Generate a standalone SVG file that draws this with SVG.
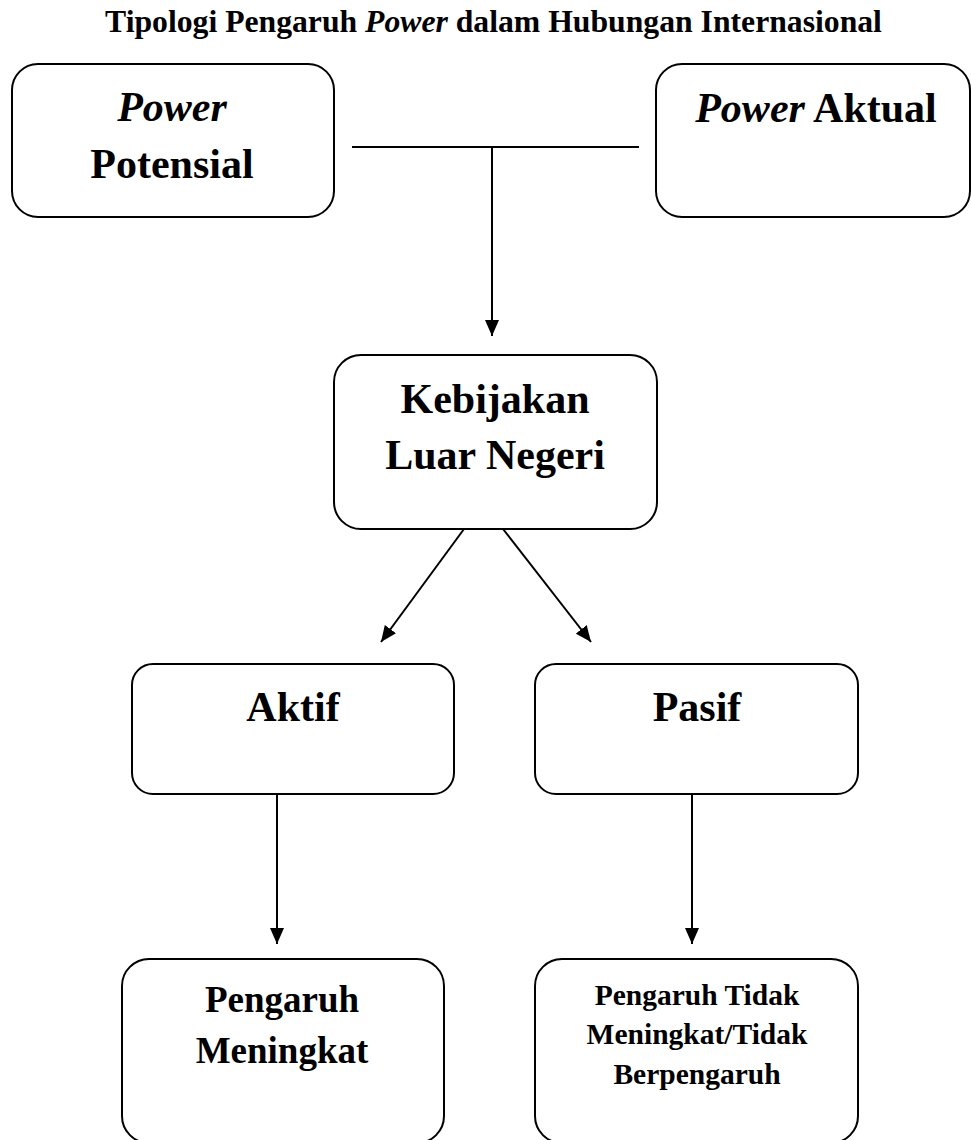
<svg xmlns="http://www.w3.org/2000/svg" width="971" height="1140" viewBox="0 0 971 1140">
<style>
.box{fill:#fff;stroke:#000;stroke-width:2}
.t{font-family:"Liberation Serif","Times New Roman",serif;font-weight:bold;fill:#000;text-anchor:middle}
.i{font-style:italic}
.c{stroke:#000;stroke-width:2;fill:none}
</style>
<defs>
<marker id="ah" markerWidth="16" markerHeight="14" refX="16" refY="7" orient="auto" markerUnits="userSpaceOnUse">
<path d="M0,0 L16,7 L0,14 z" fill="#000"/>
</marker>
</defs>
<rect width="971" height="1140" fill="#fff"/>
<text class="t" x="493.5" y="32" font-size="31.7">Tipologi Pengaruh <tspan class="i">Power</tspan> dalam Hubungan Internasional</text>

<g id="connectors">
<line class="c" x1="352" y1="147" x2="639" y2="147"/>
<line class="c" x1="492" y1="147" x2="492" y2="336" marker-end="url(#ah)"/>
<line class="c" x1="464" y1="529" x2="381" y2="642" marker-end="url(#ah)"/>
<line class="c" x1="503" y1="529" x2="591" y2="642" marker-end="url(#ah)"/>
<line class="c" x1="277" y1="794" x2="277" y2="944" marker-end="url(#ah)"/>
<line class="c" x1="692" y1="794" x2="692" y2="944" marker-end="url(#ah)"/>
</g>

<g id="power-potensial">
<rect class="box" x="12" y="64" width="322" height="153" rx="26"/>
<text class="t i" x="172" y="121" font-size="42">Power</text>
<text class="t" x="172" y="178" font-size="42">Potensial</text>
</g>

<g id="power-aktual">
<rect class="box" x="656" y="64" width="314" height="153" rx="26"/>
<text class="t" x="816" y="122" font-size="42"><tspan class="i">Power</tspan> Aktual</text>
</g>

<g id="kebijakan">
<rect class="box" x="334" y="355" width="323" height="174" rx="27"/>
<text class="t" x="495" y="413" font-size="42">Kebijakan</text>
<text class="t" x="495" y="469" font-size="42">Luar Negeri</text>
</g>

<g id="aktif">
<rect class="box" x="132" y="664" width="322" height="130" rx="21"/>
<text class="t" x="293" y="721" font-size="42">Aktif</text>
</g>

<g id="pasif">
<rect class="box" x="535" y="664" width="323" height="130" rx="21"/>
<text class="t" x="697" y="721" font-size="42">Pasif</text>
</g>

<g id="pengaruh-meningkat">
<rect class="box" x="122" y="959" width="322" height="184" rx="27"/>
<text class="t" x="282" y="1012" font-size="37">Pengaruh</text>
<text class="t" x="282" y="1063" font-size="37">Meningkat</text>
</g>

<g id="pengaruh-tidak">
<rect class="box" x="535" y="959" width="323" height="184" rx="27"/>
<text class="t" x="697" y="1005" font-size="29.5">Pengaruh Tidak</text>
<text class="t" x="697" y="1044" font-size="29.5">Meningkat/Tidak</text>
<text class="t" x="697" y="1084" font-size="29.5">Berpengaruh</text>
</g>
</svg>
